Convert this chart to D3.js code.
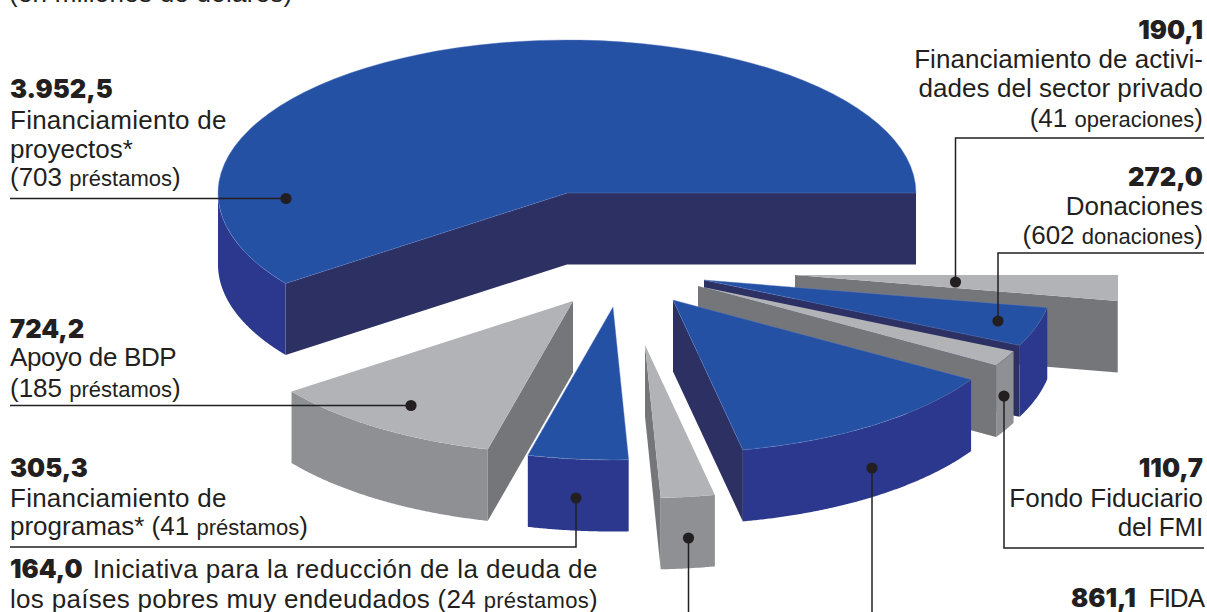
<!DOCTYPE html>
<html><head><meta charset="utf-8">
<script src="https://cdn.jsdelivr.net/npm/d3@7/dist/d3.min.js"></script>
<style>
html,body{margin:0;padding:0;background:#fff;overflow:hidden}
svg{display:block}
text{font-family:"Liberation Sans",Arial,sans-serif;fill:#231f20;font-size:26px;white-space:pre}
.v{font-family:"Inter","Liberation Sans",sans-serif;font-weight:900;font-size:25.5px;letter-spacing:0}
.s{font-size:22px}
</style></head><body>
<svg id="c" width="1207" height="612"></svg>
<script>
// ---- data (clockwise order round the pie)
const categories=["Financiamiento de proyectos","Financiamiento de actividades del sector privado","Donaciones","Fondo Fiduciario del FMI","FIDA","Iniciativa para la reducción de la deuda","Financiamiento de programas","Apoyo de BDP"];
const values=[3952.5,190.1,272.0,110.7,861.1,164.0,305.3,724.2];
const tones=["blue","grey","blue","grey","blue","grey","blue","grey"];
// ---- layout
const apexX=[567,795,704,698,673,645,613,573];
const apexY=[193,275,280,286,300,345,307,301];
const radiusScale=[1,.94,1,1,1,1,1,1];
const leaders=[
 [[10,198.5],[286,198.5]],
 [[1204,138],[955.5,138],[955.5,282]],
 [[1204,253],[998,253],[998,321]],
 [[1204,548],[1004,548],[1004,396]],
 [[872,612],[872,468]],
 [[688.5,612],[688.5,538]],
 [[10,547],[576,547],[576,498]],
 [[10,405.5],[411,405.5]]
];
const labels=[
 {a:"start",x:9,y:2,ls:.25,runs:[["(en millones de dólares)",""]]},
 {a:"start",x:10,y:98,runs:[["3.952,5","v"]]},
 {a:"start",x:10,y:129,ls:.25,runs:[["Financiamiento de",""]]},
 {a:"start",x:10,y:158,runs:[["proyectos*",""]]},
 {a:"start",x:10,y:186,runs:[["(703 ",""],["préstamos","s"],[")",""]]},
 {a:"start",x:10,y:338,runs:[["724,2","v"]]},
 {a:"start",x:10,y:366,ls:-.35,runs:[["Apoyo de BDP",""]]},
 {a:"start",x:10,y:397,runs:[["(185 ",""],["préstamos","s"],[")",""]]},
 {a:"start",x:10,y:477,runs:[["305,3","v"]]},
 {a:"start",x:10,y:507,ls:.25,runs:[["Financiamiento de",""]]},
 {a:"start",x:10,y:535,runs:[["programas* (41 ",""],["préstamos","s"],[")",""]]},
 {a:"start",x:10,y:578,ls:.42,runs:[["164,0 ","v"],["Iniciativa para la reducción de la deuda de","",5]]},
 {a:"start",x:10,y:608,ls:.3,runs:[["los países pobres muy endeudados (24 ",""],["préstamos","s"],[")",""]]},
 {a:"end",x:1203,y:39,runs:[["190,1","v"]]},
 {a:"end",x:1203,y:68,ls:.05,runs:[["Financiamiento de activi-",""]]},
 {a:"end",x:1203,y:97,ls:.05,runs:[["dades del sector privado",""]]},
 {a:"end",x:1203,y:127,runs:[["(41 ",""],["operaciones","s"],[")",""]]},
 {a:"end",x:1203,y:186,runs:[["272,0","v"]]},
 {a:"end",x:1203,y:215,runs:[["Donaciones",""]]},
 {a:"end",x:1203,y:244,runs:[["(602 ",""],["donaciones","s"],[")",""]]},
 {a:"end",x:1203,y:477,runs:[["110,7","v"]]},
 {a:"end",x:1203,y:507,runs:[["Fondo Fiduciario",""]]},
 {a:"end",x:1203,y:536,ls:-.2,runs:[["del FMI",""]]},
 {a:"end",x:1204,y:607,ls:-1,runs:[["861,1 ","v"],["FIDA","",8]]}
];
const palette={blue:{top:"#2551a5",rim:"#2c388e",cut:"#2d3063"},grey:{top:"#b1b3b7",rim:"#8e9094",cut:"#747679"}};
const RX=349,RY=153,DEPTH=71.5,K=RY/RX;

const svg=d3.select("#c");
const defs=svg.append("defs");
defs.append("clipPath").attr("id","edge").append("rect").attr("x",0).attr("y",0).attr("width",1118).attr("height",612);

const total=d3.sum(values);
const start=2.5*Math.PI-values[0]/total*2*Math.PI;
const pie=d3.pie().sort(null).value(d=>d).startAngle(start).endAngle(start+2*Math.PI);
const arcs=pie(values);

const wall=d3.area().x(d=>d[0]).y0(d=>d[1]).y1(d=>d[1]+DEPTH);
const arcGen=d3.arc().innerRadius(0);

const chart=svg.append("g");
arcs.forEach((s,i)=>{
  const g=chart.append("g").attr("clip-path",i===1?"url(#edge)":null);
  const cx=apexX[i],cy=apexY[i],R=RX*radiusScale[i],c=palette[tones[i]];
  const t0=s.startAngle-Math.PI/2,t1=s.endAngle-Math.PI/2;
  const P=t=>[cx+R*Math.cos(t),cy+R*K*Math.sin(t)];
  // cut faces facing the viewer
  if(Math.cos(t0)<0) g.append("path").attr("fill",c.cut).attr("d",wall([P(t0),[cx,cy]]));
  if(Math.cos(t1)>0) g.append("path").attr("fill",c.cut).attr("d",wall([[cx,cy],P(t1)]));
  // outer rim, only its front half
  const ts=d3.range(t0,t1,0.005).concat([t1]).filter(t=>Math.sin(t)>=1e-6);
  if(ts.length>1) g.append("path").attr("fill",c.rim).attr("d",wall(ts.map(P)));
  // top
  g.append("path").attr("fill",c.top)
   .attr("stroke",tones[i]==="blue"?"#5f7fc2":"none").attr("stroke-width",.4).attr("vector-effect","non-scaling-stroke")
   .attr("transform",`translate(${cx},${cy}) scale(1,${K})`)
   .attr("d",arcGen.outerRadius(R)(s));
});

const line=d3.line();
const lg=svg.append("g");
leaders.forEach(pts=>{
  lg.append("path").attr("d",line(pts)).attr("fill","none").attr("stroke","#231f20").attr("stroke-width",1.5);
  const e=pts[pts.length-1];
  lg.append("circle").attr("cx",e[0]).attr("cy",e[1]).attr("r",5.6).attr("fill","#231f20");
});

const tg=svg.append("g");
labels.forEach(l=>{
  const t=tg.append("text").attr("x",l.x).attr("y",l.y).attr("text-anchor",l.a).style("letter-spacing",(l.ls||0)+"px");
  l.runs.forEach(r=>t.append("tspan").attr("class",r[1]).attr("dx",r[2]||null).text(r[0]));
});
</script></body></html>
